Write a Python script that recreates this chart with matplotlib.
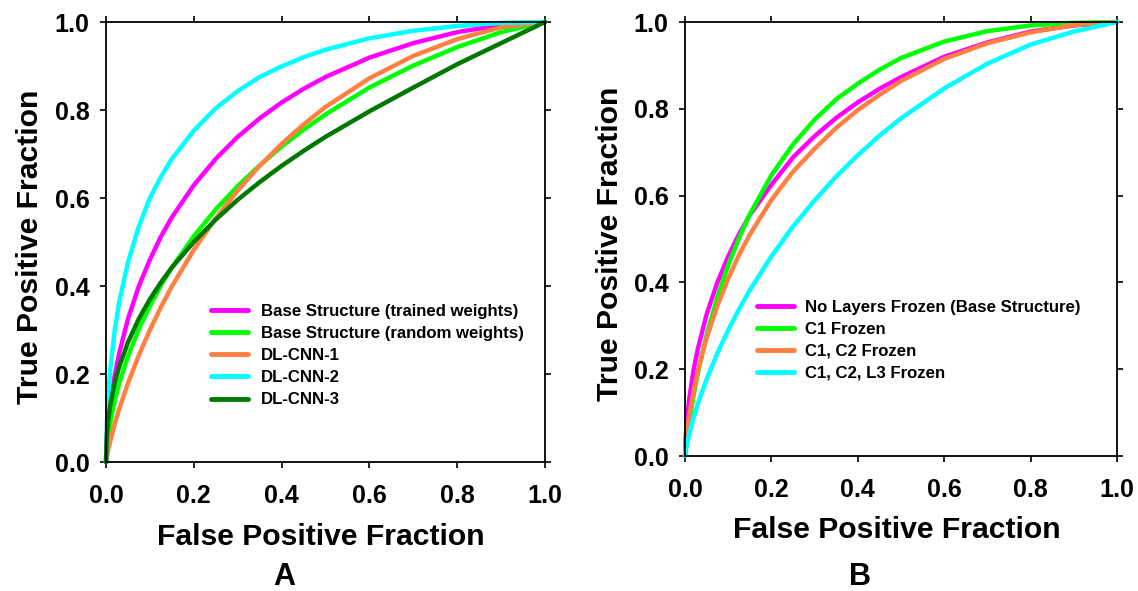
import matplotlib.pyplot as plt
import numpy as np

plt.rcParams['font.family'] = ['Liberation Sans', 'DejaVu Sans']
plt.rcParams['font.weight'] = 'bold'

fpf = [0.0, 0.002, 0.005, 0.01, 0.02, 0.03, 0.05, 0.075, 0.1, 0.125, 0.15, 0.2,
       0.25, 0.3, 0.35, 0.4, 0.45, 0.5, 0.6, 0.7, 0.8, 0.9, 1.0]

# panel A - TPF values
a_trained = [0.0, 0.049, 0.087, 0.132, 0.197, 0.247, 0.325, 0.40, 0.46, 0.512, 0.556, 0.629,
             0.689, 0.739, 0.781, 0.817, 0.848, 0.875, 0.919, 0.952, 0.977, 0.993, 1.0]
a_random = [0.0, 0.033, 0.059, 0.091, 0.14, 0.178, 0.24, 0.303, 0.355, 0.401, 0.442, 0.513,
            0.574, 0.627, 0.674, 0.717, 0.755, 0.79, 0.851, 0.901, 0.943, 0.977, 1.0]
a_cnn1 = [0.0, 0.012, 0.027, 0.049, 0.087, 0.12, 0.179, 0.243, 0.30, 0.352, 0.399, 0.482,
          0.554, 0.617, 0.673, 0.723, 0.767, 0.807, 0.872, 0.923, 0.961, 0.988, 1.0]
a_cnn2 = [0.0, 0.089, 0.15, 0.213, 0.30, 0.363, 0.454, 0.536, 0.60, 0.648, 0.689, 0.753,
          0.804, 0.843, 0.875, 0.899, 0.92, 0.937, 0.963, 0.98, 0.991, 0.998, 1.0]
a_cnn3 = [0.0, 0.062, 0.095, 0.131, 0.18, 0.216, 0.272, 0.326, 0.37, 0.408, 0.442, 0.50,
          0.551, 0.596, 0.636, 0.673, 0.707, 0.739, 0.797, 0.851, 0.904, 0.952, 1.0]

# panel B - TPF values
b_none = [0.0, 0.05, 0.088, 0.133, 0.199, 0.248, 0.326, 0.40, 0.46, 0.511, 0.555, 0.625,
          0.688, 0.737, 0.779, 0.815, 0.846, 0.873, 0.92, 0.953, 0.978, 0.992, 1.0]
b_c1 = [0.0, 0.019, 0.044, 0.08, 0.14, 0.192, 0.279, 0.366, 0.44, 0.502, 0.557, 0.647,
        0.718, 0.775, 0.822, 0.858, 0.89, 0.917, 0.955, 0.979, 0.992, 0.998, 1.0]
b_c1c2 = [0.0, 0.029, 0.058, 0.094, 0.151, 0.197, 0.272, 0.346, 0.409, 0.463, 0.51, 0.59,
          0.655, 0.708, 0.756, 0.797, 0.832, 0.864, 0.915, 0.951, 0.976, 0.993, 1.0]
b_c1c2l3 = [0.0, 0.014, 0.03, 0.052, 0.089, 0.121, 0.177, 0.237, 0.29, 0.338, 0.382, 0.46,
            0.529, 0.589, 0.644, 0.693, 0.738, 0.778, 0.847, 0.904, 0.948, 0.978, 1.0]

labels_a = ['Base Structure (trained weights)', 'Base Structure (random weights)',
            'DL-CNN-1', 'DL-CNN-2', 'DL-CNN-3']
labels_b = ['No Layers Frozen (Base Structure)', 'C1 Frozen', 'C1, C2 Frozen', 'C1, C2, L3 Frozen']

magenta = '#ff00ff'
green = '#00ff00'
orange = '#ff8040'
cyan = '#00ffff'
dkgreen = '#007800'

fig = plt.figure(figsize=(11.38, 5.91), dpi=100)
axA = fig.add_axes([106 / 1138, 1 - 462 / 591, 439 / 1138, 440 / 591])
axB = fig.add_axes([685 / 1138, 1 - 456 / 591, 432 / 1138, 434 / 591])

lw = 3.2
for y, c, lab in zip([a_trained, a_random, a_cnn1, a_cnn2, a_cnn3],
                     [magenta, green, orange, cyan, dkgreen], labels_a):
    axA.plot(fpf, y, color=c, lw=lw, label=lab, clip_on=False, solid_capstyle='round')

for y, c, lab in zip([b_none, b_c1, b_c1c2, b_c1c2l3],
                     [magenta, green, orange, cyan], labels_b):
    axB.plot(fpf, y, color=c, lw=lw, label=lab, clip_on=False, solid_capstyle='round')

for ax in (axA, axB):
    ax.set_xlim(0, 1)
    ax.set_ylim(0, 1)
    ticks = [0.0, 0.2, 0.4, 0.6, 0.8, 1.0]
    ax.set_xticks(ticks)
    ax.set_yticks(ticks)
    ax.set_xticklabels(['%.1f' % t for t in ticks])
    ax.set_yticklabels(['%.1f' % t for t in ticks])
    ax.tick_params(direction='out', length=4, width=1.2, top=True, right=True,
                   labelsize=18)
    ax.tick_params(axis='x', pad=12)
    ax.tick_params(axis='y', pad=8)
    for s in ax.spines.values():
        s.set_linewidth(1.3)
    ax.set_xlabel('False Positive Fraction', fontsize=21.7, fontweight='bold')
    ax.set_ylabel('True Positive Fraction', fontsize=21.7, fontweight='bold')
    ax.xaxis.label.set_va('center')
    ax.yaxis.label.set_va('center')

axA.xaxis.set_label_coords(0.49, -0.171)
axA.yaxis.set_label_coords(-0.173, 0.49)
axB.xaxis.set_label_coords(0.49, -0.17)
axB.yaxis.set_label_coords(-0.174, 0.49)

legA = axA.legend(loc='upper left', bbox_to_anchor=(0.225, 0.374), frameon=False,
                  fontsize=12.1, handlelength=2.2, handletextpad=0.75, labelspacing=0.42,
                  borderaxespad=0)
legB = axB.legend(loc='upper left', bbox_to_anchor=(0.152, 0.376), frameon=False,
                  fontsize=12.1, handlelength=2.2, handletextpad=0.65, labelspacing=0.42,
                  borderaxespad=0)
for leg in (legA, legB):
    for ln in leg.get_lines():
        ln.set_linewidth(3.5)

fig.text(284 / 1138, 1 - 577 / 591, 'A', ha='center', va='center', fontsize=22,
         fontweight='bold')
fig.text(860 / 1138, 1 - 577 / 591, 'B', ha='center', va='center', fontsize=22,
         fontweight='bold')

fig.savefig('out.png', dpi=100)
